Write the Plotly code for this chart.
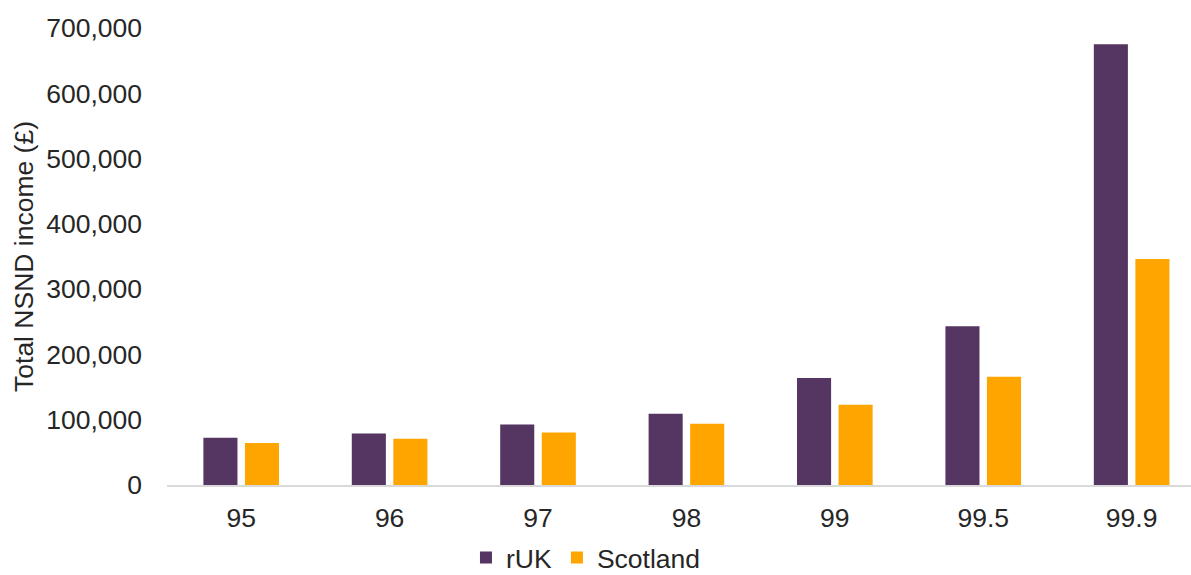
import plotly.graph_objects as go

percentiles = ["95", "96", "97", "98", "99", "99.5", "99.9"]
ruk = [72500, 79000, 92500, 109000, 164000, 243000, 675000]
scotland = [64500, 71000, 80500, 94000, 123000, 166000, 346000]

font_family = "Liberation Sans, Arial, sans-serif"
text_color = "#262626"
font_size = 26.5

fig = go.Figure()
fig.add_trace(go.Bar(name="rUK", x=percentiles, y=ruk,
                     marker=dict(color="#553561", line=dict(width=0))))
fig.add_trace(go.Bar(name="Scotland", x=percentiles, y=scotland,
                     marker=dict(color="#FFA500", line=dict(width=0))))

fig.update_layout(
    width=1191, height=575,
    margin=dict(l=167, r=0, t=28, b=90),
    paper_bgcolor="white", plot_bgcolor="white",
    barmode="group", bargap=0.44, bargroupgap=0.18,
    font=dict(family=font_family, size=font_size, color=text_color),
    showlegend=True,
    legend=dict(orientation="h", xref="container", yref="container",
                x=0.492, xanchor="center", y=0.03, yanchor="middle",
                font=dict(size=font_size), itemwidth=30, traceorder="normal"),
)
fig.update_xaxes(type="category", range=[-0.5, 6.4],
                 showline=True, linecolor="#d9d9d9", linewidth=2,
                 showgrid=False, ticks="", ticklabelstandoff=8,
                 tickfont=dict(size=font_size))
fig.update_yaxes(range=[0, 700000], dtick=100000, tickformat=",",
                 showline=False, showgrid=False, zeroline=False,
                 ticks="", ticklabelstandoff=24, tickfont=dict(size=font_size),
                 title=dict(text="Total NSND income (£)",
                            font=dict(size=font_size), standoff=4))

fig.write_html("out.html")
